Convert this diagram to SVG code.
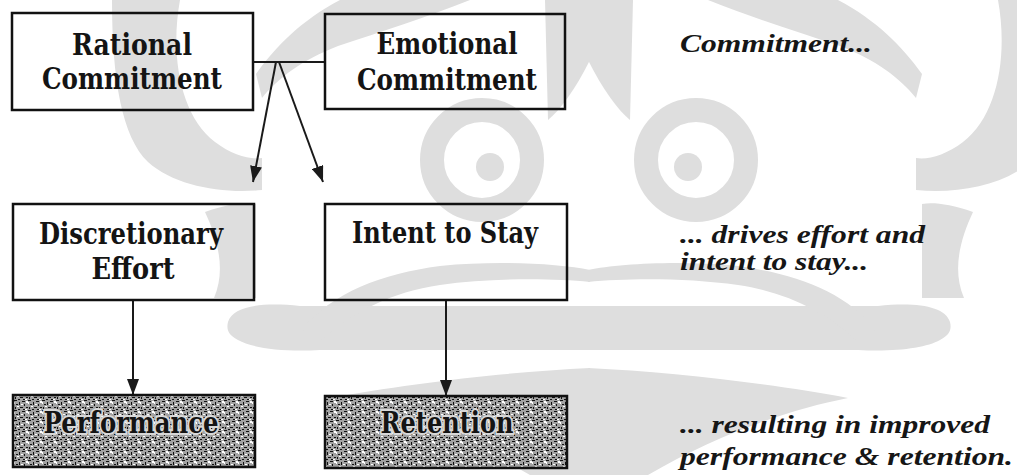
<svg xmlns="http://www.w3.org/2000/svg" width="1017" height="475" viewBox="0 0 1017 475">
  <style>
    .box { fill: none; stroke: #111111; stroke-width: 2.5; }
    .dark { fill: url(#noise); stroke: #111111; stroke-width: 2.5; }
    .lbl { font-family: "DejaVu Serif", "Liberation Serif", serif; font-weight: bold; font-size: 30px; fill: #141414; text-anchor: middle; }
    .halo { stroke: #d8d8d8; stroke-width: 4; paint-order: stroke; }
    .note { font-family: "Liberation Serif", serif; font-weight: bold; font-style: italic; font-size: 26px; fill: #161616; }
    .conn { fill: none; stroke: #1a1a1a; stroke-width: 2; }
    .wm { fill: #dedede; stroke: none; }
    .wms { fill: none; stroke: #dedede; }
  </style>
  <defs>
    <marker id="arr" viewBox="0 0 16 12" refX="16" refY="6" markerWidth="16" markerHeight="12" markerUnits="userSpaceOnUse" orient="auto">
      <path d="M0,0 L16,6 L0,12 Z" fill="#1a1a1a"/>
    </marker>
    <pattern id="noise" width="14" height="10" patternUnits="userSpaceOnUse">
      <rect width="14" height="10" fill="#a2a2a2"/>
      <rect x="0" y="0" width="3" height="1" fill="#111"/>
      <rect x="5" y="2" width="1" height="3" fill="#111"/>
      <rect x="8" y="1" width="3" height="1" fill="#111"/>
      <rect x="2" y="4" width="2" height="1" fill="#111"/>
      <rect x="10" y="4" width="1" height="2" fill="#111"/>
      <rect x="12" y="7" width="2" height="1" fill="#111"/>
      <rect x="1" y="7" width="1" height="2" fill="#111"/>
      <rect x="6" y="7" width="3" height="1" fill="#111"/>
      <rect x="4" y="9" width="2" height="1" fill="#111"/>
      <rect x="9" y="9" width="2" height="1" fill="#111"/>
      <rect x="7" y="4" width="2" height="1" fill="#fff"/>
      <rect x="12" y="1" width="2" height="2" fill="#fff"/>
      <rect x="3" y="6" width="2" height="1" fill="#fff"/>
      <rect x="0" y="2" width="1" height="2" fill="#fff"/>
      <rect x="11" y="9" width="2" height="1" fill="#fff"/>
    </pattern>
    <g id="wmhalf">
      <path class="wm" d="M112,0 L180,0 C170,55 180,115 215,142 C232,155 250,160 262,158 L262,190 C222,194 175,186 148,162 C122,137 112,80 112,0 Z"/>
      <path class="wm" d="M205,212 C228,204 245,202 256,204 L256,298 L214,298 C226,270 218,240 205,212 Z"/>
      <path class="wm" d="M340,0 L470,0 C425,18 380,32 338,46 C302,60 278,78 262,98 L256,74 C276,46 302,20 340,0 Z"/>
      <circle class="wms" cx="482" cy="160" r="50" stroke-width="24"/>
      <circle class="wm" cx="490" cy="167" r="14"/>
      <path class="wm" d="M545,0 L590,0 L590,60 C575,90 560,110 548,120 Z"/>
      <path class="wm" d="M228,322 C233,306 262,302 300,306 L590,306 L590,350 L320,350 C282,352 252,348 238,340 C229,335 226,330 228,322 Z"/>
      <path class="wm" d="M302,330 C332,292 382,274 440,266 C500,260 560,264 590,270 L590,282 C550,278 490,278 440,285 C392,292 352,312 322,340 Z"/>
      <path class="wm" d="M590,368 L590,475 L530,475 C460,434 390,410 330,398 C405,384 505,372 590,368 Z"/>
    </g>
  </defs>
  <rect width="1017" height="475" fill="#ffffff"/>

  <g id="watermark">
    <use href="#wmhalf"/>
    <use href="#wmhalf" transform="translate(1178,0) scale(-1,1)"/>
  </g>

  <g id="connectors">
    <line class="conn" x1="253" y1="62" x2="325" y2="62"/>
    <line class="conn" x1="276" y1="62" x2="253" y2="182" marker-end="url(#arr)"/>
    <line class="conn" x1="279" y1="62" x2="323" y2="182" marker-end="url(#arr)"/>
    <line class="conn" x1="133" y1="300" x2="133" y2="395" marker-end="url(#arr)"/>
    <line class="conn" x1="446" y1="300" x2="446" y2="396" marker-end="url(#arr)"/>
  </g>

  <g id="rational">
    <rect class="box" x="12" y="13" width="241" height="97"/>
    <text class="lbl" x="132" y="55" textLength="120" lengthAdjust="spacingAndGlyphs">Rational</text>
    <text class="lbl" x="132" y="89" textLength="180" lengthAdjust="spacingAndGlyphs">Commitment</text>
  </g>
  <g id="emotional">
    <rect class="box" x="325" y="14" width="240" height="95"/>
    <text class="lbl" x="447" y="54" textLength="141" lengthAdjust="spacingAndGlyphs">Emotional</text>
    <text class="lbl" x="447" y="90" textLength="180" lengthAdjust="spacingAndGlyphs">Commitment</text>
  </g>
  <g id="discretionary">
    <rect class="box" x="13" y="204" width="241" height="96"/>
    <text class="lbl" x="131" y="244" textLength="184" lengthAdjust="spacingAndGlyphs">Discretionary</text>
    <text class="lbl" x="133" y="279" textLength="83" lengthAdjust="spacingAndGlyphs">Effort</text>
  </g>
  <g id="intent">
    <rect class="box" x="325" y="204" width="242" height="96"/>
    <text class="lbl" x="445" y="243" textLength="186" lengthAdjust="spacingAndGlyphs">Intent to Stay</text>
  </g>
  <g id="performance">
    <rect class="dark" x="13" y="395" width="242" height="72"/>
    <text class="lbl halo" x="131" y="433" textLength="175" lengthAdjust="spacingAndGlyphs">Performance</text>
  </g>
  <g id="retention">
    <rect class="dark" x="325" y="396" width="242" height="72"/>
    <text class="lbl halo" x="447" y="433" textLength="133" lengthAdjust="spacingAndGlyphs">Retention</text>
  </g>

  <g id="notes">
    <text class="note" x="680" y="52" textLength="192" lengthAdjust="spacingAndGlyphs">Commitment...</text>
    <text class="note" x="680" y="243" textLength="245" lengthAdjust="spacingAndGlyphs">... drives effort and</text>
    <text class="note" x="680" y="270" textLength="188" lengthAdjust="spacingAndGlyphs">intent to stay...</text>
    <text class="note" x="680" y="433" textLength="310" lengthAdjust="spacingAndGlyphs">... resulting in improved</text>
    <text class="note" x="680" y="465" textLength="333" lengthAdjust="spacingAndGlyphs">performance &amp; retention.</text>
  </g>
</svg>
